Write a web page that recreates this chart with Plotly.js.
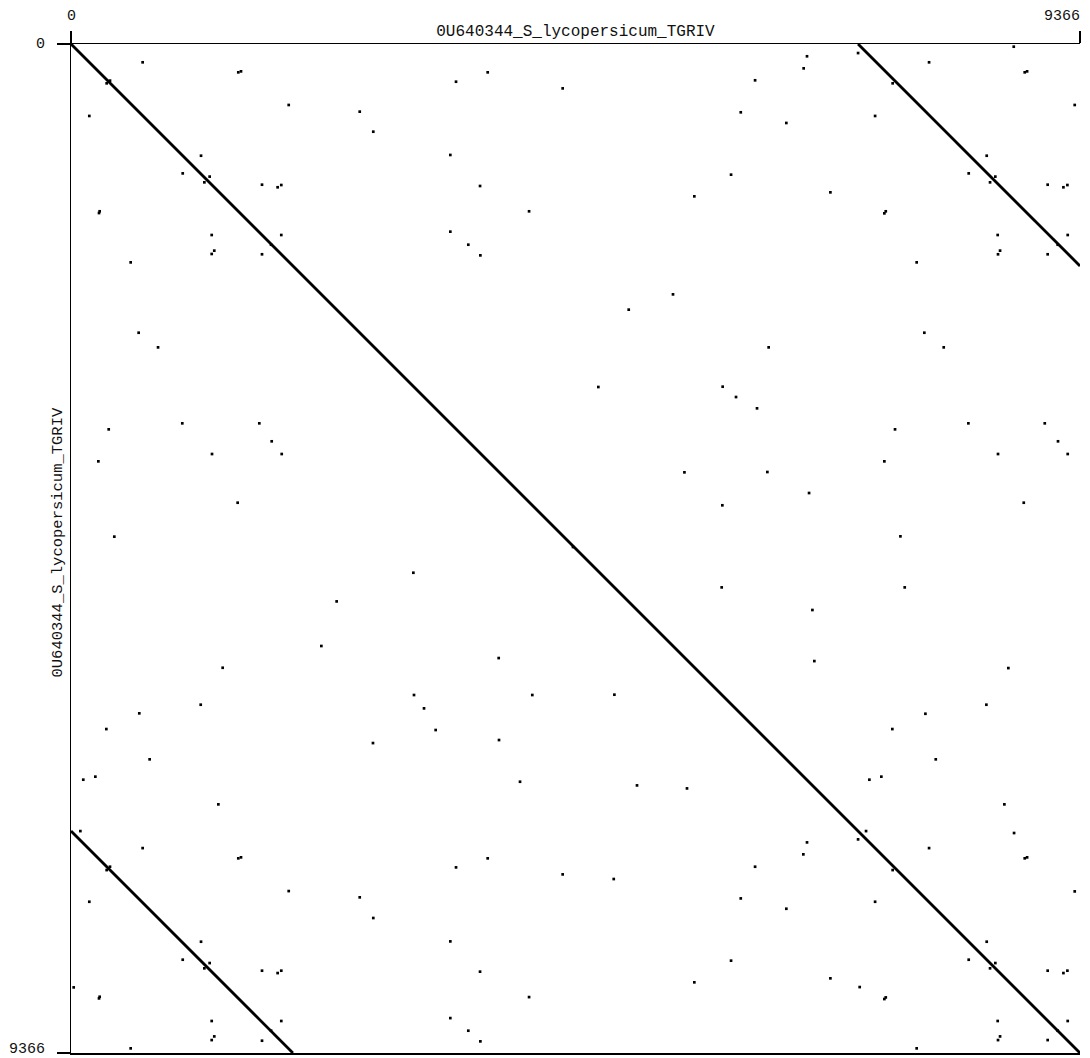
<!DOCTYPE html>
<html>
<head>
<meta charset="utf-8">
<script src="https://cdn.plot.ly/plotly-3.0.1.min.js"></script>
<style>html,body{margin:0;padding:0;background:#fff;}#chart{width:1090px;height:1058px;}</style>
</head>
<body>
<div id="chart"></div>
<script>
// ---- data ----
const seqName = "0U640344_S_lycopersicum_TGRIV";
const seqLength = 9366;
const tickVals = [0, 9366];
const tickText = ["0", "9366"];

// alignment diagonals (start/end in sequence coordinates)
const mainDiagX = [0, 9366];
const mainDiagY = [0, 9366];
const upperDiagX = [7306, 9366];
const upperDiagY = [0, 2060];
const lowerDiagX = [0, 2060];
const lowerDiagY = [7306, 9366];

// short matches (dots), grouped by region
const nwX = [665,1553,1578,331,362,3574,3868,4564,2021,2680,170,2806,1207,3521,1037,1287,1238,1773,1918,1952,3797,260,266,4252,1306,1952,3521,1857,3688,1330,1306,1773,3800,554,628,808,1033,1748,350,1863,1309,1956,254,1547,402,4660];
const nwY = [170,263,254,365,340,350,263,412,566,628,668,814,1037,1030,1201,1231,1284,1306,1330,1309,1318,1569,1553,1553,1773,1773,1742,1863,1863,1918,1949,1952,1962,2027,2680,2816,3521,3521,3577,3688,3806,3806,3874,4258,4573,4669];

const neX = [6832,6801,6350,6217,6640,7306,7965,8751,8853,8875,7627,9317,7464,8500,8333,8580,8531,9066,9212,9249,6127,5786,7049,7563,7550,8602,9252,9159,8624,8605,9066,7850,5588,5177,7921,8101,6476,4895,6049,6173,6368,7649,8330,9039,9162,8605,9252,7550,5694,6464,6851,6046,8844,7699];
const neY = [114,226,337,634,733,84,170,25,263,254,365,566,668,1037,1201,1231,1284,1306,1330,1309,1213,1414,1377,1553,1572,1773,1773,1863,1918,1952,1952,2027,2324,2466,2680,2816,2816,3184,3181,3277,3382,3577,3521,3521,3688,3806,3806,3874,3976,3973,4168,4282,4258,4570];

const swX = [3178,2466,2324,1408,3970,1204,634,328,3184,4282,3277,3385,2803,3973,730,114,226,4168,1368,87,665,1553,1578,3574,3868,4564,331,362,2021,2680,170,2806,1207,3521,1037,1287,1238,1773,1918,1952,3797,260,266,4252,25,1306,1952,3521,1857,3688,1330,1306,1773,3800,554];
const swY = [4908,5174,5588,5790,5700,6133,6213,6359,6043,6043,6167,6368,6489,6461,6640,6829,6801,6848,7058,7306,7464,7559,7550,7643,7559,7708,7668,7637,7863,7921,7962,8113,8333,8330,8500,8531,8580,8602,8624,8602,8611,8859,8844,8847,8757,9069,9069,9042,9159,9159,9212,9246,9252,9258,9323];

const seX = [6040,7739,6882,6900,8701,5044,8497,7931,7624,8027,7411,7522,5254,5718,8664,7380,7306,6832,6798,8754,7965,8853,8875,6350,7627,5038,9317,6217,6640,7464,8500,8333,8580,8531,6127,5786,7049,7321,7563,7550,9066,9212,9249,8602,9252,9159,8624,8605,9066,7850];
const seY = [5044,5044,5254,5728,5793,6040,6133,6217,6359,6640,6829,6801,6882,6910,7058,7306,7383,7411,7522,7324,7464,7559,7550,7637,7668,7751,7866,7931,8027,7962,8333,8500,8531,8580,8509,8710,8673,8754,8850,8865,8602,8624,8602,9069,9069,9159,9212,9246,9246,9323];

// ---- chart ----
const lineStyle = {color: '#000', width: 2.8};
const dotStyle = {color: '#000', size: 2.7, symbol: 'square', line: {width: 0}};

function diag(x, y) {
  return {type: 'scatter', mode: 'lines', x: x, y: y, line: lineStyle, hoverinfo: 'skip', showlegend: false};
}
function dots(x, y) {
  return {type: 'scatter', mode: 'markers', x: x, y: y, marker: dotStyle, hoverinfo: 'skip', showlegend: false};
}

const traces = [
  diag(mainDiagX, mainDiagY),
  diag(upperDiagX, upperDiagY),
  diag(lowerDiagX, lowerDiagY),
  dots(nwX, nwY), dots(neX, neY), dots(swX, swY), dots(seX, seY)
];

const fontFam = '"Liberation Mono", "Courier New", monospace';
const tickFont = {family: fontFam, size: 15, color: '#111'};

const annotations = [];
tickVals.forEach((v, i) => {
  const last = i === tickVals.length - 1;
  // top axis labels
  annotations.push({
    text: tickText[i], x: v, xref: 'x', y: 1, yref: 'paper',
    xanchor: last ? 'right' : 'center', yanchor: 'middle',
    xshift: last ? 2 : 0, yshift: 28, showarrow: false, font: tickFont
  });
  // left axis labels
  annotations.push({
    text: tickText[i], x: 0, xref: 'paper', y: v, yref: 'y',
    xanchor: 'right', yanchor: 'middle', xshift: -24, yshift: last ? 4 : 0,
    showarrow: false, font: tickFont
  });
});
// y axis title
annotations.push({
  text: seqName, x: 0, xref: 'paper', y: 0.5, yref: 'paper',
  xanchor: 'center', yanchor: 'middle', xshift: -14, yshift: 6,
  textangle: -90, showarrow: false,
  font: {family: fontFam, size: 15.5, color: '#111'}
});

const layout = {
  width: 1090, height: 1058,
  margin: {l: 71, r: 10, t: 44, b: 5, pad: 0},
  paper_bgcolor: '#fff', plot_bgcolor: '#fff',
  title: {
    text: seqName, xref: 'paper', x: 0.5, xanchor: 'center',
    yref: 'container', y: 1 - 30 / 1058, yanchor: 'middle',
    font: {family: fontFam, size: 16, color: '#111'}
  },
  xaxis: {
    range: [0, seqLength], side: 'top', showgrid: false, zeroline: false,
    showline: true, linecolor: '#000', linewidth: 1.5, mirror: true,
    ticks: 'outside', ticklen: 12, tickwidth: 1.2, tickcolor: '#000',
    tickvals: tickVals, showticklabels: false, fixedrange: true
  },
  yaxis: {
    range: [seqLength, 0], showgrid: false, zeroline: false,
    showline: true, linecolor: '#000', linewidth: 1.5, mirror: false,
    ticks: 'outside', ticklen: 13, tickwidth: 1.2, tickcolor: '#000',
    tickvals: tickVals, showticklabels: false, fixedrange: true
  },
  annotations: annotations,
  showlegend: false
};

Plotly.newPlot('chart', traces, layout, {staticPlot: true, displayModeBar: false});
</script>
</body>
</html>
